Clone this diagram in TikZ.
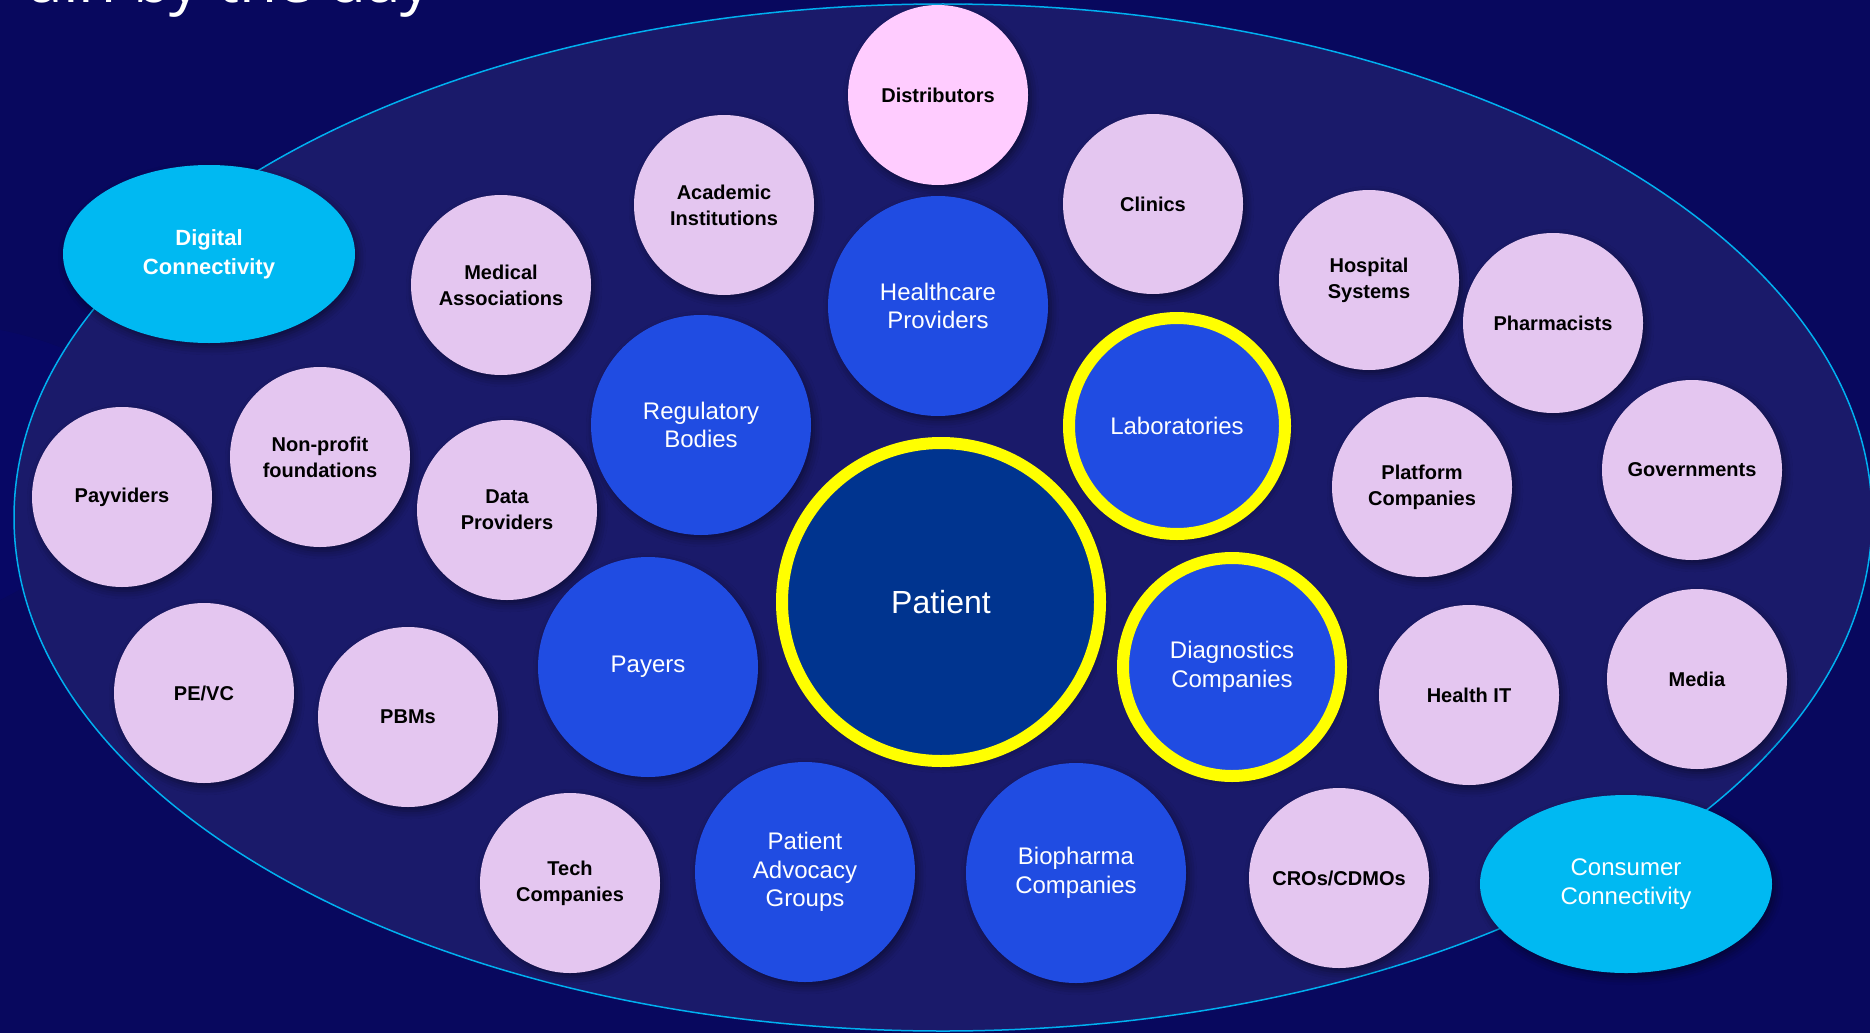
\documentclass[tikz,border=0pt]{standalone}
\usepackage{fontspec}
\setmainfont{Liberation Sans}
\newfontfamily\titlefont{Open Sans}
\usetikzlibrary{shapes.geometric,shadows.blur}
\definecolor{bgnavy}{HTML}{08085E}
\definecolor{ellfill}{HTML}{1A1A6A}
\definecolor{ellline}{HTML}{00B0F0}
\definecolor{lav}{HTML}{E4C6F0}
\definecolor{pinkc}{HTML}{FFCCFF}
\definecolor{bluec}{HTML}{204CE2}
\definecolor{patc}{HTML}{00348F}
\definecolor{cyanc}{HTML}{00B9F2}
\definecolor{ringc}{HTML}{FFFF00}
\begin{document}
\begin{tikzpicture}[x=1pt,y=-1pt,
  shd/.style={blur shadow={shadow xshift=3pt,shadow yshift=-4pt,shadow blur radius=8pt,shadow opacity=45}},
  lavnode/.style={circle,fill=lav,minimum size=180pt,inner sep=0pt,align=center,text=black,
    font=\fontsize{20}{26}\selectfont\bfseries,shd},
  distnode/.style={lavnode,fill=pinkc},
  bluenode/.style={circle,fill=bluec,minimum size=220pt,inner sep=0pt,align=center,text=white,
    font=\fontsize{24}{28.5}\selectfont,shd},
  ringnode/.style={bluenode,draw=ringc,line width=12pt},
  patnode/.style={circle,fill=patc,draw=ringc,line width=12pt,minimum size=318pt,inner sep=0pt,
    text=white,font=\fontsize{32}{36}\selectfont,shd},
  cyannode/.style={ellipse,fill=cyanc,minimum width=292pt,minimum height=178pt,inner sep=0pt,
    align=center,text=white,shd},
]
% background
\fill[bgnavy] (0,0) rectangle (1870,1033);
\useasboundingbox (0,0) rectangle (1870,1033);
\fill[blue!30!bgnavy,opacity=0.15] (0,330) .. controls (150,360) and (250,470) .. (0,600) -- cycle;
% clipped title
\begin{scope}
\clip (0,0) rectangle (1870,1033);
\node[anchor=base east,text=white,font=\titlefont\fontsize{62}{70}\selectfont,inner sep=0pt] (title) at (432,3) {ain by the day};
\end{scope}
% big ellipse
\draw[ellline,fill=ellfill,line width=1.5pt] (943,517.5) ellipse [x radius=929, y radius=513.5];

% nodes
\node[distnode] (dist) at (938,95) {Distributors};
\node[lavnode] (acad) at (724,205) {Academic\\Institutions};
\node[lavnode] (clin) at (1153,204) {Clinics};
\node[bluenode] (hcp) at (938,306) {Healthcare\\Providers};
\node[lavnode] (med) at (501,285) {Medical\\Associations};
\node[lavnode] (hosp) at (1369,280) {Hospital\\Systems};
\node[lavnode] (pharm) at (1553,323) {Pharmacists};
\node[cyannode,font=\fontsize{22}{29}\selectfont\bfseries] (digi) at (209,254) {Digital\\Connectivity};
\node[bluenode] (reg) at (701,425) {Regulatory\\Bodies};
\node[ringnode,minimum size=216pt] (lab) at (1177,426) {Laboratories};
\node[lavnode] (npf) at (320,457) {Non-profit\\foundations};
\node[lavnode] (data) at (507,510) {Data\\Providers};
\node[lavnode] (payv) at (122,497) {Payviders};
\node[lavnode] (plat) at (1422,487) {Platform\\Companies};
\node[lavnode] (gov) at (1692,470) {Governments};
\node[patnode] (pat) at (941,602) {Patient};
\node[ringnode,minimum size=218pt] (diag) at (1232,667) {Diagnostics\\Companies};
\node[bluenode] (payers) at (648,667) {Payers};
\node[lavnode] (pevc) at (204,693) {PE/VC};
\node[lavnode] (pbm) at (408,717) {PBMs};
\node[lavnode] (hit) at (1469,695) {Health IT};
\node[lavnode] (media) at (1697,679) {Media};
\node[lavnode] (tech) at (570,883) {Tech\\Companies};
\node[bluenode] (pag) at (805,872) {Patient\\Advocacy\\Groups};
\node[bluenode] (bio) at (1076,873) {Biopharma\\Companies};
\node[lavnode] (cro) at (1339,878) {CROs/CDMOs};
\node[cyannode,font=\fontsize{24}{29}\selectfont] (cons) at (1626,884) {Consumer\\Connectivity};
\end{tikzpicture}
\end{document}
